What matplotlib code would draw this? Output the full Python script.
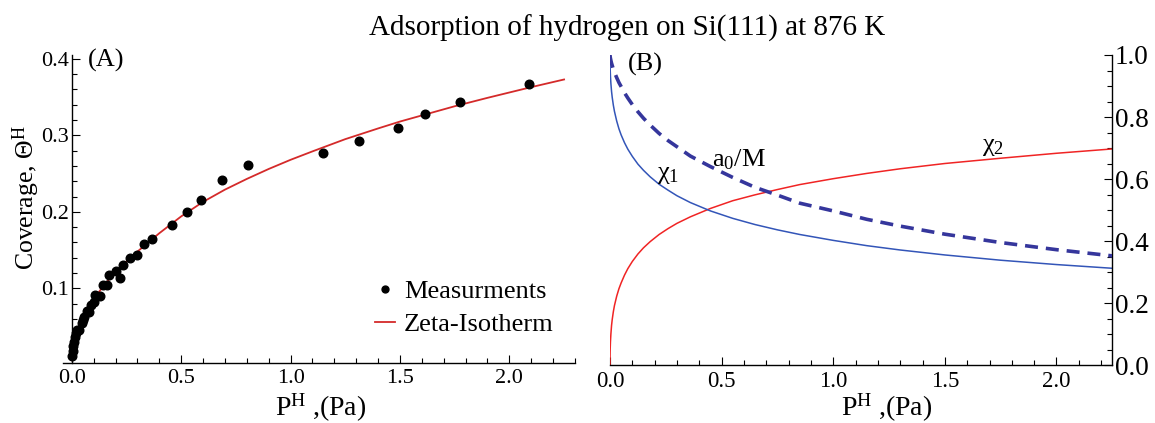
import numpy as np
import matplotlib
matplotlib.use("Agg")
import matplotlib.pyplot as plt
from matplotlib.ticker import MultipleLocator, FormatStrFormatter

plt.rcParams['font.family'] = ['Liberation Serif', 'DejaVu Serif']
plt.rcParams['mathtext.fontset'] = 'custom'
plt.rcParams['mathtext.rm'] = 'Liberation Serif'
plt.rcParams['mathtext.it'] = 'Liberation Serif:italic'
plt.rcParams['mathtext.bf'] = 'Liberation Serif:bold'

# ---------------- Data: panel (A) ----------------
p_meas = [0.002, 0.004, 0.007, 0.010, 0.014, 0.018, 0.025, 0.035, 0.045, 0.050,
          0.058, 0.068, 0.080, 0.086, 0.100, 0.108, 0.128, 0.145, 0.160, 0.172,
          0.200, 0.222, 0.235, 0.265, 0.298, 0.330, 0.365, 0.460, 0.525, 0.590,
          0.688, 0.805, 1.148, 1.311, 1.489, 1.616, 1.776, 2.091]
theta_meas = [0.012, 0.018, 0.024, 0.030, 0.036, 0.041, 0.045, 0.045, 0.055, 0.058,
              0.062, 0.071, 0.069, 0.078, 0.082, 0.091, 0.090, 0.104, 0.105, 0.117,
              0.123, 0.114, 0.130, 0.139, 0.143, 0.158, 0.165, 0.183, 0.200, 0.216,
              0.242, 0.261, 0.277, 0.293, 0.310, 0.328, 0.344, 0.367]

p_zeta = [0.0, 0.002, 0.005, 0.01, 0.02, 0.035, 0.05, 0.075, 0.1, 0.15, 0.2, 0.25,
          0.3, 0.4, 0.5, 0.6, 0.7, 0.8, 0.9, 1.0, 1.1, 1.25, 1.4, 1.5, 1.6, 1.75,
          1.9, 2.0, 2.1, 2.25]
theta_zeta = [0.006, 0.016, 0.023, 0.030, 0.040, 0.051, 0.061, 0.074, 0.086, 0.105,
              0.121, 0.135, 0.148, 0.172, 0.194, 0.213, 0.229, 0.243, 0.256, 0.268,
              0.279, 0.295, 0.309, 0.318, 0.326, 0.338, 0.349, 0.356, 0.363, 0.373]

# ---------------- Data: panel (B) ----------------
p_b = [0.0, 0.0005, 0.001, 0.002, 0.004, 0.007, 0.01, 0.015, 0.02, 0.03, 0.04,
       0.05, 0.065, 0.08, 0.1, 0.125, 0.15, 0.18, 0.22, 0.26, 0.3, 0.36, 0.45,
       0.55, 0.65, 0.75, 0.85, 1.0, 1.15, 1.3, 1.5, 1.75, 2.0, 2.25]
chi1 = [1.0, 0.964, 0.951, 0.932, 0.908, 0.882, 0.863, 0.838, 0.818, 0.787, 0.762,
        0.742, 0.717, 0.696, 0.673, 0.648, 0.628, 0.607, 0.583, 0.564, 0.546, 0.524,
        0.497, 0.473, 0.453, 0.436, 0.421, 0.402, 0.385, 0.371, 0.355, 0.338, 0.324,
        0.312]
chi2 = [0.0, 0.040, 0.055, 0.075, 0.100, 0.128, 0.147, 0.172, 0.192, 0.222, 0.246,
        0.265, 0.290, 0.311, 0.334, 0.358, 0.378, 0.398, 0.421, 0.440, 0.457, 0.478,
        0.505, 0.530, 0.549, 0.566, 0.582, 0.601, 0.618, 0.633, 0.650, 0.667, 0.683,
        0.697]
a0_over_m = [1.0, 0.996, 0.993, 0.989, 0.982, 0.973, 0.966, 0.954, 0.944, 0.927,
             0.911, 0.898, 0.878, 0.861, 0.840, 0.817, 0.796, 0.774, 0.747, 0.724,
             0.704, 0.674, 0.640, 0.605, 0.573, 0.548, 0.522, 0.497, 0.470, 0.448,
             0.422, 0.395, 0.372, 0.352]

W, H = 1155, 423
fig = plt.figure(figsize=(W / 100, H / 100), dpi=100)

def fx(px):
    return px / W

def fy(py):
    return 1 - py / H

# ---------------- Panel A ----------------
axA = fig.add_axes([fx(63), fy(363.3), fx(575 - 63), (363.3 - 55) / H])
axA.plot(p_zeta, theta_zeta, color='#d42a2a', lw=1.3, label='Zeta-Isotherm', zorder=2)
axA.plot(p_meas, theta_meas, 'o', color='black', ms=6.2, label='Measurments',
         clip_on=False, zorder=3)
axA.set_xlim(-0.04, 2.3)
axA.set_ylim(0.002, 0.405)
axA.spines['left'].set_position(('data', 0))
axA.spines['top'].set_visible(False)
axA.spines['right'].set_visible(False)
axA.xaxis.set_major_locator(MultipleLocator(0.5))
axA.xaxis.set_minor_locator(MultipleLocator(0.1))
axA.yaxis.set_major_locator(MultipleLocator(0.1))
axA.yaxis.set_minor_locator(MultipleLocator(0.02))
axA.xaxis.set_major_formatter(FormatStrFormatter('%.1f'))
axA.yaxis.set_major_formatter(FormatStrFormatter('%.1f'))
axA.tick_params(which='both', direction='in', width=0.8, labelsize=16)
axA.tick_params(which='major', length=6)
axA.tick_params(which='minor', length=3.5)
axA.tick_params(axis='y', pad=2)
axA.tick_params(axis='x', pad=4)
for s in ('left', 'bottom'):
    axA.spines[s].set_linewidth(1.0)

handles, labels = axA.get_legend_handles_labels()
leg = fig.legend(handles[::-1], labels[::-1], loc='upper left',
                 bbox_to_anchor=(fx(375), fy(280)), frameon=False,
                 fontsize=19, borderpad=0, borderaxespad=0,
                 handlelength=0.75, handletextpad=0.35, labelspacing=0.36,
                 markerscale=0.8)

fig.text(fx(88), fy(60), '(A)', fontsize=19, ha='left', va='center')

# ---------------- Panel B ----------------
axB = fig.add_axes([fx(610), fy(365), fx(1112.3 - 610), (365 - 55) / H])
axB.plot(p_b, chi2, color='#f02424', lw=1.1, zorder=2)
axB.plot(p_b, chi1, color='#3355b8', lw=1.1, zorder=2)
axB.plot(p_b, a0_over_m, color='#35369c', lw=2.6, dashes=(3.6, 2.2), zorder=3)
axB.set_xlim(0, 2.25)
axB.set_ylim(0, 1.0)
axB.spines['left'].set_visible(False)
axB.spines['top'].set_visible(False)
axB.yaxis.tick_right()
axB.xaxis.set_major_locator(MultipleLocator(0.5))
axB.xaxis.set_minor_locator(MultipleLocator(0.1))
axB.yaxis.set_major_locator(MultipleLocator(0.2))
axB.yaxis.set_minor_locator(MultipleLocator(0.05))
axB.xaxis.set_major_formatter(FormatStrFormatter('%.1f'))
axB.yaxis.set_major_formatter(FormatStrFormatter('%.1f'))
axB.tick_params(which='both', direction='in', width=0.8)
axB.tick_params(axis='x', labelsize=16.5, pad=4)
axB.tick_params(axis='y', labelsize=19.5, pad=2)
axB.tick_params(which='major', length=6)
axB.tick_params(which='minor', length=3.5)
for s in ('right', 'bottom'):
    axB.spines[s].set_linewidth(1.0)

axB.text(0.21, 0.613, 'χ$_1$', fontsize=19, ha='left', va='center')
axB.text(0.457, 0.661, 'a$_0$/M', fontsize=19, ha='left', va='center')
axB.text(1.666, 0.703, 'χ$_2$', fontsize=19, ha='left', va='center')
fig.text(fx(628), fy(64), '(B)', fontsize=19, ha='left', va='center')

# ---------------- Labels ----------------
fig.text(fx(627), fy(28), 'Adsorption of hydrogen on Si(111) at 876 K',
         fontsize=21, ha='center', va='center')
fig.text(fx(26), fy(198), 'Coverage, Θ$^{\\mathrm{H}}$', fontsize=18.5,
         rotation=90, ha='center', va='center')
fig.text(fx(321), fy(408), 'P$^{\\mathrm{H}}$ ,(Pa)', fontsize=20,
         ha='center', va='center')
fig.text(fx(887), fy(408), 'P$^{\\mathrm{H}}$ ,(Pa)', fontsize=20,
         ha='center', va='center')

fig.savefig('out.png', dpi=100)
